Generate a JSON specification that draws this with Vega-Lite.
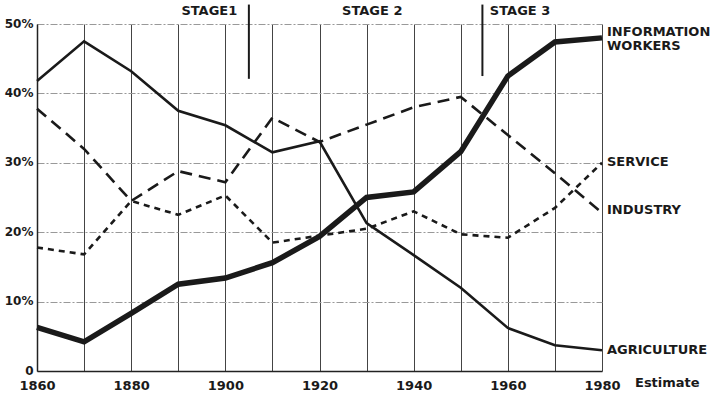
{
  "$schema": "https://vega.github.io/schema/vega-lite/v6.json",
  "width": 565,
  "height": 347,
  "autosize": {"type": "none"},
  "padding": {"left": 37, "top": 24, "right": 113, "bottom": 23},
  "background": "white",
  "config": {
    "view": {"stroke": null},
    "font": "DejaVu Sans",
    "text": {"font": "DejaVu Sans", "fontWeight": "bold", "fill": "#1a1a1a"},
    "line": {"color": "#1a1a1a", "strokeCap": "butt", "strokeJoin": "miter"}
  },
  "datasets": {
    "series": [
      {"year": 1860, "sector": "Agriculture", "pct": 41.8},
      {"year": 1870, "sector": "Agriculture", "pct": 47.5},
      {"year": 1880, "sector": "Agriculture", "pct": 43.2},
      {"year": 1890, "sector": "Agriculture", "pct": 37.5},
      {"year": 1900, "sector": "Agriculture", "pct": 35.4},
      {"year": 1910, "sector": "Agriculture", "pct": 31.5},
      {"year": 1920, "sector": "Agriculture", "pct": 33.1},
      {"year": 1930, "sector": "Agriculture", "pct": 21.3},
      {"year": 1940, "sector": "Agriculture", "pct": 16.7},
      {"year": 1950, "sector": "Agriculture", "pct": 12.0},
      {"year": 1960, "sector": "Agriculture", "pct": 6.2},
      {"year": 1970, "sector": "Agriculture", "pct": 3.7},
      {"year": 1980, "sector": "Agriculture", "pct": 3.0},
      {"year": 1860, "sector": "Information", "pct": 6.3},
      {"year": 1870, "sector": "Information", "pct": 4.2},
      {"year": 1880, "sector": "Information", "pct": 8.3},
      {"year": 1890, "sector": "Information", "pct": 12.5},
      {"year": 1900, "sector": "Information", "pct": 13.4},
      {"year": 1910, "sector": "Information", "pct": 15.6},
      {"year": 1920, "sector": "Information", "pct": 19.4},
      {"year": 1930, "sector": "Information", "pct": 25.0},
      {"year": 1940, "sector": "Information", "pct": 25.8},
      {"year": 1950, "sector": "Information", "pct": 31.6},
      {"year": 1960, "sector": "Information", "pct": 42.5},
      {"year": 1970, "sector": "Information", "pct": 47.4},
      {"year": 1980, "sector": "Information", "pct": 48.0},
      {"year": 1860, "sector": "Industry", "pct": 37.8},
      {"year": 1870, "sector": "Industry", "pct": 32.0},
      {"year": 1880, "sector": "Industry", "pct": 24.5},
      {"year": 1890, "sector": "Industry", "pct": 28.8},
      {"year": 1900, "sector": "Industry", "pct": 27.2},
      {"year": 1910, "sector": "Industry", "pct": 36.5},
      {"year": 1920, "sector": "Industry", "pct": 33.0},
      {"year": 1930, "sector": "Industry", "pct": 35.5},
      {"year": 1940, "sector": "Industry", "pct": 38.0},
      {"year": 1950, "sector": "Industry", "pct": 39.5},
      {"year": 1960, "sector": "Industry", "pct": 34.0},
      {"year": 1970, "sector": "Industry", "pct": 28.5},
      {"year": 1980, "sector": "Industry", "pct": 22.8},
      {"year": 1860, "sector": "Service", "pct": 17.8},
      {"year": 1870, "sector": "Service", "pct": 16.8},
      {"year": 1880, "sector": "Service", "pct": 24.5},
      {"year": 1890, "sector": "Service", "pct": 22.5},
      {"year": 1900, "sector": "Service", "pct": 25.3},
      {"year": 1910, "sector": "Service", "pct": 18.5},
      {"year": 1920, "sector": "Service", "pct": 19.5},
      {"year": 1930, "sector": "Service", "pct": 20.5},
      {"year": 1940, "sector": "Service", "pct": 23.0},
      {"year": 1950, "sector": "Service", "pct": 19.7},
      {"year": 1960, "sector": "Service", "pct": 19.2},
      {"year": 1970, "sector": "Service", "pct": 23.5},
      {"year": 1980, "sector": "Service", "pct": 30.0}
    ],
    "endLabels": [
      {"year": 1980, "pct": 48.8, "label": "INFORMATION"},
      {"year": 1980, "pct": 46.8, "label": "WORKERS"},
      {"year": 1980, "pct": 30.1, "label": "SERVICE"},
      {"year": 1980, "pct": 23.2, "label": "INDUSTRY"},
      {"year": 1980, "pct": 3.0, "label": "AGRICULTURE"}
    ],
    "stages": [
      {"year": 1905, "top": 52.8, "bottom": 42.1},
      {"year": 1954.6, "top": 52.8, "bottom": 42.5}
    ],
    "stageLabels": [
      {"year": 1896.6, "pct": 51.9, "label": "STAGE1"},
      {"year": 1931.2, "pct": 51.9, "label": "STAGE 2"},
      {"year": 1962.6, "pct": 51.9, "label": "STAGE 3"}
    ],
    "note": [
      {"year": 1980, "pct": -1.8, "label": "Estimate"}
    ]
  },
  "encoding": {
    "x": {
      "field": "year", "type": "quantitative",
      "scale": {"domain": [1860, 1980], "nice": false, "zero": false}
    },
    "y": {
      "field": "pct", "type": "quantitative",
      "scale": {"domain": [0, 50], "nice": false}
    }
  },
  "layer": [
    {
      "data": {"name": "series"},
      "transform": [{"filter": "datum.sector == 'Service'"}],
      "mark": {"type": "line", "strokeWidth": 2.6, "strokeDash": [6, 5]},
      "encoding": {
        "x": {
          "field": "year", "type": "quantitative",
          "axis": {
            "values": [1860, 1870, 1880, 1890, 1900, 1910, 1920, 1930, 1940, 1950, 1960, 1970, 1980],
            "labelExpr": "datum.value % 20 == 0 ? datum.value : ''",
            "title": null,
            "grid": true, "gridColor": "#444", "gridWidth": 1, "gridOpacity": 1,
            "ticks": false,
            "domain": true, "domainColor": "#222", "domainWidth": 1.5,
            "labelFont": "DejaVu Sans", "labelFontWeight": "bold", "labelFontSize": 13,
            "labelColor": "#1a1a1a", "labelPadding": 8, "labelFlush": false
          }
        },
        "y": {
          "field": "pct", "type": "quantitative",
          "axis": {
            "values": [0, 10, 20, 30, 40, 50],
            "labelExpr": "datum.value == 0 ? '0' : datum.value + '%'",
            "title": null,
            "grid": true, "gridColor": "#999", "gridWidth": 1, "gridDash": [7, 2, 2, 2], "gridOpacity": 1,
            "ticks": false,
            "domain": true, "domainColor": "#222", "domainWidth": 1.5,
            "labelFont": "DejaVu Sans", "labelFontWeight": "bold", "labelFontSize": 12,
            "labelColor": "#1a1a1a", "labelPadding": 4, "labelOffset": -1
          }
        }
      }
    },
    {
      "data": {"name": "series"},
      "transform": [{"filter": "datum.sector == 'Industry'"}],
      "mark": {"type": "line", "strokeWidth": 2.6, "strokeDash": [12, 7]},
      "encoding": {}
    },
    {
      "data": {"name": "series"},
      "transform": [{"filter": "datum.sector == 'Agriculture'"}],
      "mark": {"type": "line", "strokeWidth": 2.6},
      "encoding": {}
    },
    {
      "data": {"name": "series"},
      "transform": [{"filter": "datum.sector == 'Information'"}],
      "mark": {"type": "line", "strokeWidth": 5.5},
      "encoding": {}
    },
    {
      "data": {"name": "stages"},
      "mark": {"type": "rule", "color": "#1a1a1a", "strokeWidth": 2},
      "encoding": {
        "y": {"field": "top", "type": "quantitative"},
        "y2": {"field": "bottom"}
      }
    },
    {
      "data": {"name": "stageLabels"},
      "mark": {"type": "text", "fontSize": 13, "align": "center", "baseline": "middle"},
      "encoding": {
        "text": {"field": "label"}
      }
    },
    {
      "data": {"name": "endLabels"},
      "mark": {"type": "text", "fontSize": 13, "align": "left", "baseline": "middle", "dx": 5},
      "encoding": {
        "text": {"field": "label"}
      }
    },
    {
      "data": {"name": "note"},
      "mark": {"type": "text", "fontSize": 13, "align": "left", "baseline": "middle", "dx": 33},
      "encoding": {
        "text": {"field": "label"}
      }
    }
  ]
}
